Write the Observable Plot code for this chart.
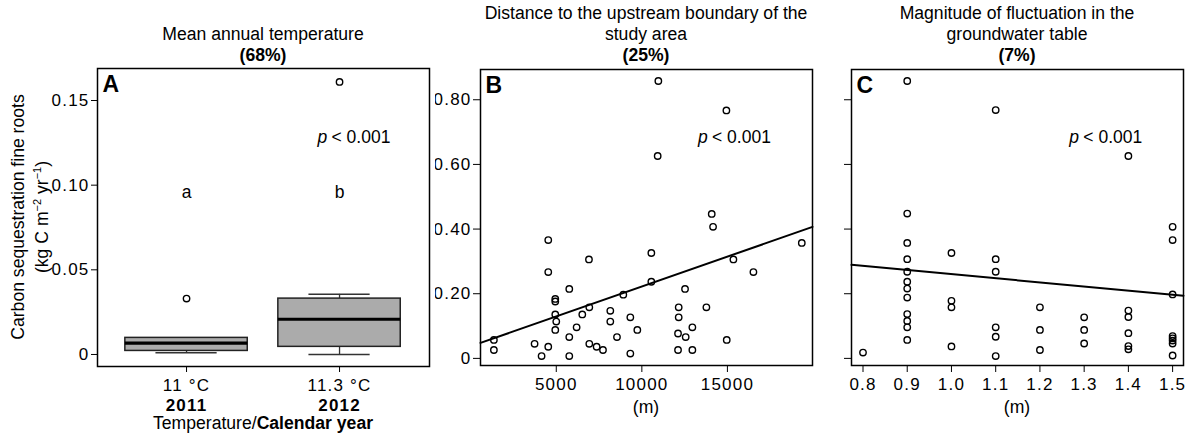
<!DOCTYPE html>
<html><head><meta charset="utf-8">
<script src="https://cdn.jsdelivr.net/npm/d3@7"></script>
<script src="https://cdn.jsdelivr.net/npm/@observablehq/plot@0.6"></script>
<style>
body{margin:0;background:#fff;}
#chart{position:relative;width:1193px;height:440px;font-family:"Liberation Sans",Arial,sans-serif;color:#000;background:#fff;overflow:hidden;}
.lbl{position:absolute;white-space:nowrap;transform:translate(-50%,-50%);font-size:17.6px;line-height:1;}
.rot{transform:translate(-50%,-50%) rotate(-90deg);}
.panel{position:absolute;top:0;}
b{font-weight:bold;}
g[aria-label$="tick label"]{letter-spacing:1.2px;}
</style></head><body><div id="chart"></div>
<script>
// ---------- Panel A: boxplots ----------
const tempLabels = ["11 °C", "11.3 °C"];
const yearLabels = ["2011", "2012"];
const boxQ1 = [0.0021, 0.0045];
const boxMedian = [0.0067, 0.0208];
const boxQ3 = [0.0098, 0.033];
const whiskerLow = [0.001, 0.0];
const whiskerHigh = [0.0098, 0.0355];
const outlierGroup = [1, 2];
const outlierValue = [0.033, 0.161];
const letterLabels = ["a", "b"];
const letterY = [0.096, 0.096];

// ---------- Panel B: distance vs carbon ----------
const distance = [10964,14940,10925,14083,14161,4532,10555,6910,15349,19345,4532,16519,10555,5760,12523,8917,4942,4942,6930,12153,13771,8157,4942,6520,9327,12153,5000,8157,6189,12952,4942,9736,12114,1355,5760,8547,12562,14960,3733,6930,4532,7358,7729,1355,12114,12952,9327,4142,5760];
const carbonB = [0.858,0.767,0.626,0.447,0.407,0.366,0.326,0.306,0.306,0.357,0.267,0.267,0.237,0.215,0.215,0.197,0.184,0.176,0.158,0.158,0.158,0.147,0.136,0.136,0.127,0.127,0.114,0.114,0.096,0.096,0.088,0.088,0.077,0.057,0.066,0.066,0.066,0.057,0.045,0.045,0.036,0.036,0.026,0.026,0.026,0.026,0.015,0.007,0.007];
const regB = {intercept: 0.0373, slope: 1.85e-5};

// ---------- Panel C: groundwater fluctuation vs carbon ----------
const fluct = [0.8,
  0.9,0.9,0.9,0.9,0.9,0.9,0.9,0.9,0.9,0.9,0.9,0.9,
  1.0,1.0,1.0,1.0,
  1.1,1.1,1.1,1.1,1.1,1.1,
  1.2,1.2,1.2,
  1.3,1.3,1.3,
  1.4,1.4,1.4,1.4,1.4,1.4,
  1.5,1.5,1.5,1.5,1.5,1.5,1.5,1.5];
const carbonC = [0.018,
  0.858,0.448,0.357,0.307,0.268,0.237,0.216,0.188,0.137,0.116,0.096,0.057,
  0.326,0.178,0.158,0.037,
  0.768,0.307,0.268,0.096,0.067,0.007,
  0.158,0.088,0.026,
  0.127,0.088,0.046,
  0.626,0.148,0.128,0.078,0.038,0.028,
  0.407,0.366,0.198,0.069,0.062,0.055,0.046,0.009];
const regC = {intercept: 0.388, slope: -0.1274};

const pLabel = "< 0.001";
const panelLetters = ["A", "B", "C"];

const FONT = "Liberation Sans, Arial, sans-serif";
const chart = document.getElementById("chart");

function addLabel(html, x, y, extra = "") {
  const d = document.createElement("div");
  d.className = "lbl " + extra;
  d.style.left = x + "px";
  d.style.top = y + "px";
  d.innerHTML = html;
  chart.appendChild(d);
}
function place(svg, left) {
  svg.classList.add("panel");
  svg.style.left = left + "px";
  chart.appendChild(svg);
}
const fmt2 = d => d === 0 ? "0" : d3.format(".2f")(d);

function letterMark(letter) {
  return Plot.text([letter], {frameAnchor: "top-left", text: d => d, textAnchor: "start", lineAnchor: "top", dx: 5, dy: 7, fontWeight: "bold", fontSize: 23});
}
function pMarks(x, y) {
  return [
    Plot.text([{x, y}], {x: "x", y: "y", text: () => "p", fontStyle: "italic", textAnchor: "start", fontSize: 17.5}),
    Plot.text([{x, y}], {x: "x", y: "y", text: () => pLabel, textAnchor: "start", dx: 14, fontSize: 17.5})
  ];
}

// ---- Panel A ----
const boxData = tempLabels.map((t, i) => ({
  x: i + 1, q1: boxQ1[i], med: boxMedian[i], q3: boxQ3[i], lo: whiskerLow[i], hi: whiskerHigh[i]
}));
const outliers = outlierGroup.map((g, i) => ({x: g, v: outlierValue[i]}));
const letters = letterLabels.map((l, i) => ({x: i + 1, y: letterY[i], l}));

const plotA = Plot.plot({
  width: 435, height: 440,
  marginLeft: 97, marginRight: 6, marginTop: 68, marginBottom: 74,
  x: {domain: [0.418, 2.588]},
  y: {domain: [-0.0071, 0.1689]},
  style: {fontFamily: FONT, fontSize: "17px", background: "transparent", color: "black"},
  marks: [
    Plot.axisY({ticks: [0, 0.05, 0.10, 0.15], tickFormat: fmt2, tickSize: 6, tickPadding: 2, label: null, fontSize: 17}),
    Plot.axisX({ticks: [1, 2], tickFormat: d => tempLabels[d - 1], tickSize: 6, tickPadding: 6, label: null, fontSize: 17}),
    Plot.axisX({ticks: [1, 2], tickFormat: d => yearLabels[d - 1], tickSize: 0, tickPadding: 32, label: null, fontSize: 17, fontWeight: "bold"}),
    Plot.ruleX(boxData, {x: "x", y1: "q3", y2: "hi", stroke: "#333", strokeWidth: 1.3}),
    Plot.ruleX(boxData, {x: "x", y1: "lo", y2: "q1", stroke: "#333", strokeWidth: 1.3}),
    Plot.ruleY(boxData, {y: "hi", x1: d => d.x - 0.2, x2: d => d.x + 0.2, stroke: "#333", strokeWidth: 1.5}),
    Plot.ruleY(boxData, {y: "lo", x1: d => d.x - 0.2, x2: d => d.x + 0.2, stroke: "#333", strokeWidth: 1.5}),
    Plot.rect(boxData, {x1: d => d.x - 0.4, x2: d => d.x + 0.4, y1: "q1", y2: "q3", fill: "#ababab", stroke: "#222", strokeWidth: 1.5}),
    Plot.ruleY(boxData, {y: "med", x1: d => d.x - 0.4, x2: d => d.x + 0.4, stroke: "black", strokeWidth: 3.2}),
    Plot.dot(outliers, {x: "x", y: "v", r: 3.2, stroke: "black", strokeWidth: 1.4, fill: "none"}),
    Plot.text(letters, {x: "x", y: "y", text: "l", fontSize: 17.5}),
    ...pMarks(1.856, 0.128),
    Plot.frame({stroke: "black", strokeWidth: 1.5}),
    letterMark(panelLetters[0])
  ]
});
place(plotA, 0);

// ---- Panel B ----
const ptsB = distance.map((d, i) => ({x: d, y: carbonB[i]}));
const xDomB = [573, 19971];
const lineB = xDomB.map(x => ({x, y: regB.intercept + regB.slope * x}));
const plotB = Plot.plot({
  width: 382, height: 440,
  marginLeft: 45, marginRight: 5, marginTop: 69, marginBottom: 75,
  x: {domain: xDomB},
  y: {domain: [-0.022, 0.8936]},
  style: {fontFamily: FONT, fontSize: "17px", background: "transparent", color: "black"},
  marks: [
    Plot.axisY({ticks: [0, 0.2, 0.4, 0.6, 0.8], tickFormat: fmt2, tickSize: 7, tickPadding: 2, label: null, fontSize: 17}),
    Plot.axisX({ticks: [5000, 10000, 15000], tickFormat: d => String(d), tickSize: 7, tickPadding: 5, label: null, fontSize: 17}),
    Plot.line(lineB, {x: "x", y: "y", stroke: "black", strokeWidth: 2}),
    Plot.dot(ptsB, {x: "x", y: "y", r: 3.2, stroke: "black", strokeWidth: 1.4, fill: "none"}),
    ...pMarks(13283, 0.683),
    Plot.frame({stroke: "black", strokeWidth: 1.5}),
    letterMark(panelLetters[1])
  ]
});
place(plotB, 435);

// ---- Panel C ----
const ptsC = fluct.map((d, i) => ({x: d, y: carbonC[i]}));
const xDomC = [0.774, 1.5246];
const lineC = xDomC.map(x => ({x, y: regC.intercept + regC.slope * x}));
const plotC = Plot.plot({
  width: 376, height: 440,
  marginLeft: 34, marginRight: 10, marginTop: 69, marginBottom: 75,
  x: {domain: xDomC},
  y: {domain: [-0.022, 0.8936]},
  style: {fontFamily: FONT, fontSize: "17px", background: "transparent", color: "black"},
  marks: [
    Plot.axisY({ticks: [0, 0.2, 0.4, 0.6, 0.8], tickFormat: () => "", tickSize: 7, label: null}),
    Plot.axisX({ticks: [0.8, 0.9, 1.0, 1.1, 1.2, 1.3, 1.4, 1.5], tickFormat: d3.format(".1f"), tickSize: 7, tickPadding: 5, label: null, fontSize: 17}),
    Plot.line(lineC, {x: "x", y: "y", stroke: "black", strokeWidth: 2}),
    Plot.dot(ptsC, {x: "x", y: "y", r: 3.2, stroke: "black", strokeWidth: 1.4, fill: "none"}),
    ...pMarks(1.2665, 0.683),
    Plot.frame({stroke: "black", strokeWidth: 1.5}),
    letterMark(panelLetters[2])
  ]
});
place(plotC, 817);

// ---- Titles and axis labels ----
addLabel("Mean annual temperature", 263, 34.5);
addLabel("<b>(68%)</b>", 263, 55.5);
addLabel("Distance to the upstream boundary of the", 646, 13.5);
addLabel("study area", 646, 35);
addLabel("<b>(25%)</b>", 646, 55.5);
addLabel("Magnitude of fluctuation in the", 1017, 13.5);
addLabel("groundwater table", 1017, 35);
addLabel("<b>(7%)</b>", 1017, 55.5);
addLabel("Carbon sequestration fine roots", 19, 217, "rot");
addLabel("(kg C m<sup style='font-size:11px;line-height:0'>\u22122</sup> yr<sup style='font-size:11px;line-height:0'>\u22121</sup>)", 42.5, 217, "rot");
addLabel("Temperature/<b>Calendar year</b>", 263, 424);
addLabel("(m)", 646, 408);
addLabel("(m)", 1017, 408);
</script></body></html>
